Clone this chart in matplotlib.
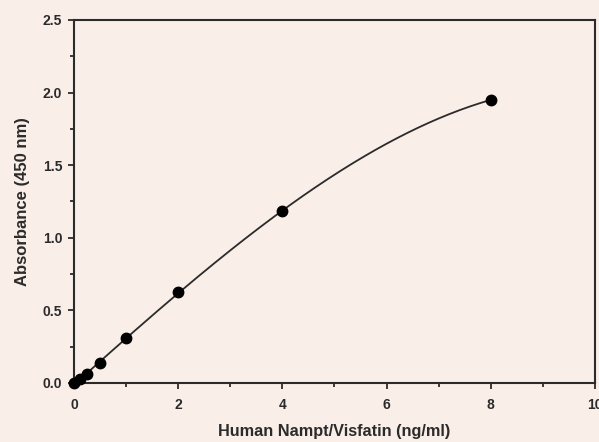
import numpy as np
import matplotlib
matplotlib.use("Agg")
import matplotlib.pyplot as plt
from matplotlib.ticker import MultipleLocator

conc = [0, 0.125, 0.25, 0.5, 1, 2, 4, 8]
absorb = [0.0, 0.03, 0.06, 0.135, 0.31, 0.625, 1.185, 1.95]
xticks = [0, 2, 4, 6, 8, 10]
xticklabels = ['0', '2', '4', '6', '8', '10']
yticks = [0, 0.5, 1.0, 1.5, 2.0, 2.5]
yticklabels = ['0.0', '0.5', '1.0', '1.5', '2.0', '2.5']
xlabel = "Human Nampt/Visfatin (ng/ml)"
ylabel = "Absorbance (450 nm)"

bg = "#f9eee8"
ink = "#2b2b2b"
plt.rcParams['font.family'] = ['Liberation Sans', 'DejaVu Sans']

fig = plt.figure(figsize=(5.99, 4.42), dpi=100, facecolor=bg)
ax = fig.add_axes([0.1235, 0.1335, 0.8698, 0.8213], facecolor=bg)

coef = np.polyfit(conc, absorb, 3)
xs = np.linspace(0, 8, 200)
ax.plot(xs, np.polyval(coef, xs), color=ink, lw=1.3, zorder=2)
ax.plot(conc, absorb, 'o', color='black', ms=7.5, zorder=3, clip_on=False)

ax.set_xlim(0, 10)
ax.set_ylim(0, 2.5)
ax.xaxis.set_minor_locator(MultipleLocator(1))
ax.yaxis.set_minor_locator(MultipleLocator(0.25))
ax.set_xticks(xticks)
ax.set_xticklabels(xticklabels)
ax.set_yticks(yticks)
ax.set_yticklabels(yticklabels)

for s in ax.spines.values():
    s.set_color(ink)
    s.set_linewidth(1.5)
ax.tick_params(which='both', direction='out', color=ink, width=1.3)
ax.tick_params(which='major', length=4.5, labelsize=10, labelcolor=ink)
ax.tick_params(axis='x', which='major', pad=6)
ax.tick_params(axis='y', which='major', pad=4)
ax.tick_params(which='minor', length=3)
for lbl in ax.get_xticklabels() + ax.get_yticklabels():
    lbl.set_fontweight('bold')

ax.set_xlabel(xlabel, fontsize=11.7, fontweight='bold', color=ink, labelpad=9)
ax.set_ylabel(ylabel, fontsize=12, fontweight='bold', color=ink, labelpad=9)

fig.savefig("out.png", dpi=100, facecolor=bg)
